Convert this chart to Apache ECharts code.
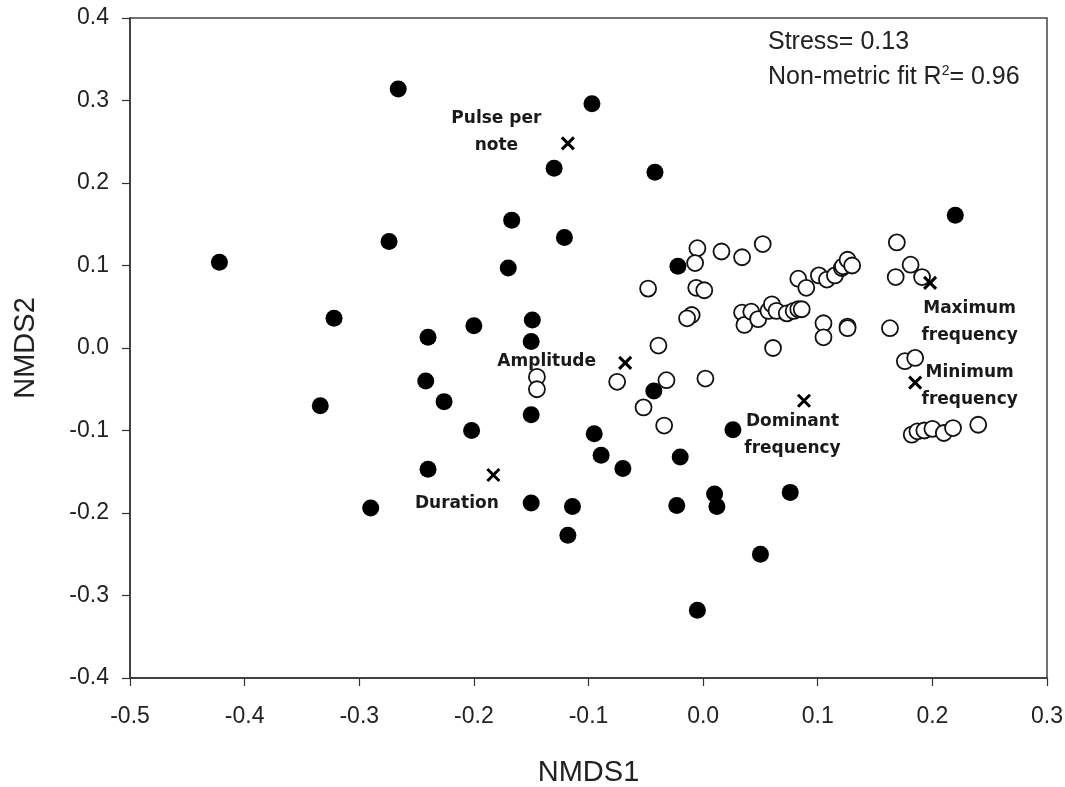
<!DOCTYPE html>
<html>
<head>
<meta charset="utf-8">
<script src="https://cdn.jsdelivr.net/npm/echarts@6/dist/echarts.min.js"></script>
<style>
  html, body { margin: 0; padding: 0; background: #fff; }
  #chart { width: 1065px; height: 787px; }
</style>
</head>
<body>
<div id="chart"></div>
<script>
// filled circles (NMDS1, NMDS2)
const filledX = [-0.422, -0.266, -0.097, -0.130, -0.042, -0.167, -0.121, -0.274, -0.170, -0.022,
  -0.322, -0.240, -0.200, -0.149, -0.150, -0.242, -0.334, -0.226, -0.150, -0.043,
  -0.202, -0.095, -0.089, -0.070, -0.240, -0.150, -0.114, -0.290, -0.118, 0.026,
  -0.020, -0.023, 0.010, 0.012, 0.076, 0.050, -0.005, 0.220];
const filledY = [0.104, 0.314, 0.296, 0.218, 0.213, 0.155, 0.134, 0.129, 0.097, 0.099,
  0.036, 0.013, 0.027, 0.034, 0.008, -0.040, -0.070, -0.065, -0.081, -0.052,
  -0.100, -0.104, -0.130, -0.146, -0.147, -0.188, -0.192, -0.194, -0.227, -0.099,
  -0.132, -0.191, -0.177, -0.192, -0.175, -0.250, -0.318, 0.161];

// open circles
const openX = [-0.005, -0.007, 0.016, 0.034, 0.052, -0.048, -0.006, 0.001, -0.010, -0.014,
  -0.039, 0.061, -0.075, -0.032, 0.002, -0.052, -0.034, -0.145, -0.145,
  0.034, 0.036, 0.042, 0.048, 0.057, 0.060, 0.064, 0.073, 0.079, 0.083, 0.086,
  0.083, 0.090, 0.101, 0.108, 0.115, 0.121, 0.122, 0.126, 0.130,
  0.105, 0.105, 0.126, 0.126,
  0.169, 0.181, 0.168, 0.191, 0.163, 0.176, 0.185,
  0.182, 0.187, 0.193, 0.200, 0.210, 0.218, 0.240];
const openY = [0.121, 0.103, 0.117, 0.110, 0.126, 0.072, 0.073, 0.070, 0.040, 0.036,
  0.003, 0.000, -0.041, -0.039, -0.037, -0.072, -0.094, -0.035, -0.050,
  0.043, 0.028, 0.044, 0.035, 0.045, 0.053, 0.045, 0.042, 0.045, 0.047, 0.047,
  0.084, 0.073, 0.088, 0.083, 0.088, 0.097, 0.099, 0.107, 0.100,
  0.030, 0.013, 0.026, 0.024,
  0.128, 0.101, 0.086, 0.086, 0.024, -0.016, -0.012,
  -0.105, -0.101, -0.100, -0.098, -0.103, -0.097, -0.093];

// variable vectors (x marks)
const loadingNames = ["Pulse per\nnote", "Amplitude", "Duration", "Dominant\nfrequency", "Maximum\nfrequency", "Minimum\nfrequency"];
const loadingX = [-0.118, -0.068, -0.183, 0.088, 0.198, 0.185];
const loadingY = [0.248, -0.018, -0.154, -0.064, 0.079, -0.042];

const xTicks = [-0.5, -0.4, -0.3, -0.2, -0.1, 0.0, 0.1, 0.2, 0.3];
const yTicks = [-0.4, -0.3, -0.2, -0.1, 0.0, 0.1, 0.2, 0.3, 0.4];

// label offsets from the x symbol (px)
const labelPos = [[-63, -3], [-70, 7], [-28, 37], [-3, 43], [48, 48], [63, 12]];

const chart = echarts.init(document.getElementById("chart"));
const font = "'Liberation Sans', Arial, sans-serif";
const boldFont = "'DejaVu Sans', 'Liberation Sans', sans-serif";

const axisCommon = {
  type: "value",
  interval: 0.1,
  nameLocation: "middle",
  nameTextStyle: { fontFamily: font, fontSize: 29, color: "#222" },
  splitLine: { show: false },
  axisLine: { onZero: false, lineStyle: { color: "#333", width: 1.5 } },
  axisTick: { length: 8, lineStyle: { color: "#333", width: 1.2 } },
  axisLabel: {
    fontFamily: font, fontSize: 23, color: "#222",
    formatter: v => v.toFixed(1)
  }
};

const option = {
  animation: false,
  grid: {
    left: 130, right: 18, top: 18, bottom: 109,
    outerBoundsMode: "none",
    show: true, borderColor: "#444", borderWidth: 1.5
  },
  xAxis: Object.assign({}, axisCommon, {
    min: xTicks[0], max: xTicks[xTicks.length - 1],
    name: "NMDS1", nameGap: 80,
    axisLabel: Object.assign({}, axisCommon.axisLabel, { margin: 27 })
  }),
  yAxis: Object.assign({}, axisCommon, {
    min: yTicks[0], max: yTicks[yTicks.length - 1],
    name: "NMDS2", nameGap: 90,
    axisLabel: Object.assign({}, axisCommon.axisLabel, { margin: 21 })
  }),
  series: [
    {
      name: "filled",
      type: "scatter",
      symbol: "circle",
      symbolSize: 17,
      itemStyle: { color: "#000", opacity: 1 },
      data: filledX.map((x, i) => [x, filledY[i]])
    },
    {
      name: "open",
      type: "scatter",
      symbol: "circle",
      symbolSize: 16,
      itemStyle: { color: "#fff", borderColor: "#111", borderWidth: 1.8, opacity: 1 },
      data: openX.map((x, i) => [x, openY[i]])
    },
    {
      name: "vectors",
      type: "scatter",
      symbol: "path://M0,0L10,10M10,0L0,10",
      symbolSize: 12,
      itemStyle: { color: "none", borderColor: "#000", borderWidth: 3, opacity: 1 },
      z: 5,
      data: loadingX.map((x, i) => ({
        value: [x, loadingY[i]],
        name: loadingNames[i],
        label: {
          show: true,
          position: labelPos[i],
          align: "center",
          verticalAlign: "middle",
          formatter: "{b}",
          fontFamily: boldFont,
          fontWeight: "bold",
          fontSize: 17,
          lineHeight: 27,
          color: "#1a1a1a"
        }
      }))
    }
  ],
  graphic: [
    {
      type: "text", left: 768, top: 30,
      style: { text: "Stress= 0.13", font: "25px " + font, fill: "#222" }
    },
    {
      type: "text", left: 768, top: 64,
      style: {
        text: "Non-metric fit R{sup|2}= 0.96",
        font: "25px " + font, fill: "#222",
        rich: { sup: { fontSize: 14, verticalAlign: "top", padding: [0, 0, 12, 0], fontFamily: font, fill: "#222" } }
      }
    }
  ]
};

chart.setOption(option);
</script>
</body>
</html>
